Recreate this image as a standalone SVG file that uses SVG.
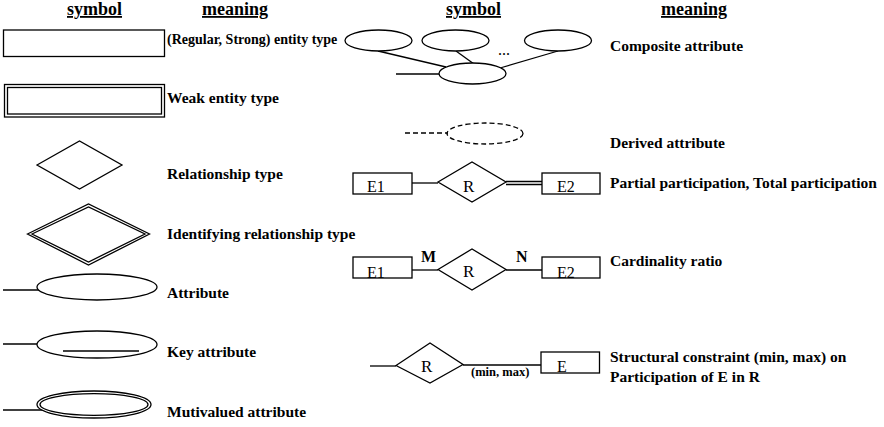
<svg xmlns="http://www.w3.org/2000/svg" width="884" height="427" viewBox="0 0 884 427">
<style>
.s{fill:#fff;stroke:#000;stroke-width:1.3}
.c{fill:none;stroke:#000;stroke-width:1.3}
.d{fill:none;stroke:#000;stroke-width:1.3;stroke-dasharray:5 3}
text{font-family:'Liberation Serif','Times New Roman','DejaVu Serif',serif;fill:#000}
.lbl{font-weight:bold;font-size:15.5px}
.hdr{font-weight:bold;font-size:18px;text-decoration:underline}
.nt{font-size:16px}
.rt{font-size:17px}
.card{font-weight:bold;font-size:16px}
</style>
<rect width="884" height="427" fill="#fff"/>
<g id="headers">
<text class="hdr" x="67" y="15">symbol</text>
<text class="hdr" x="202" y="15">meaning</text>
<text class="hdr" x="446" y="15">symbol</text>
<text class="hdr" x="661" y="15">meaning</text>
</g>
<g id="connectors">
<line class="c" x1="3" y1="290" x2="45" y2="290"/>
<line class="c" x1="3" y1="344" x2="45" y2="344"/>
<line class="c" x1="3" y1="410" x2="45" y2="410"/>
<line class="c" x1="378" y1="51" x2="446" y2="67"/>
<line class="c" x1="456" y1="51" x2="474" y2="64"/>
<line class="c" x1="558" y1="51" x2="500" y2="68"/>
<line class="c" x1="396" y1="74" x2="442" y2="74"/>
<line class="d" x1="405" y1="133" x2="448" y2="133"/>
<line class="c" x1="412" y1="183" x2="438" y2="183"/>
<line class="c" x1="506" y1="181.5" x2="542" y2="181.5"/>
<line class="c" x1="506" y1="184.5" x2="542" y2="184.5"/>
<line class="c" x1="412" y1="270" x2="438" y2="270"/>
<line class="c" x1="506" y1="270" x2="542" y2="270"/>
<line class="c" x1="370" y1="366" x2="396" y2="366"/>
<line class="c" x1="463" y1="365" x2="541" y2="365"/>
</g>
<g id="entity">
<rect class="s" x="3.5" y="30" width="161" height="26.5"/>
</g>
<g id="weak-entity">
<rect class="s" x="4.5" y="84.5" width="160" height="32.5" stroke="#333" stroke-width="1.8"/>
<rect class="c" x="7.5" y="87.5" width="154" height="26.5"/>
</g>
<g id="relationship">
<polygon class="s" points="37,165 79.5,141 122,165 79.5,189"/>
</g>
<g id="identifying-relationship">
<polygon class="s" points="27.5,234 88.5,204 149.5,234 88.5,265"/>
<polygon class="c" points="32,234 88.5,207 145,234 88.5,262"/>
</g>
<g id="attribute">
<ellipse class="s" cx="97" cy="287" rx="60" ry="13"/>
</g>
<g id="key-attribute">
<ellipse class="s" cx="97" cy="344.5" rx="60" ry="13.5"/>
<line class="c" x1="63" y1="351" x2="139" y2="351" stroke-width="1.6"/>
</g>
<g id="multivalued-attribute">
<ellipse class="s" cx="94" cy="404.5" rx="57" ry="13.5"/>
<ellipse class="c" cx="94" cy="404.5" rx="54" ry="10.8"/>
</g>
<g id="composite-attribute">
<ellipse class="s" cx="378.5" cy="40.5" rx="33.5" ry="10.5"/>
<ellipse class="s" cx="455.5" cy="40.5" rx="33.5" ry="10.5"/>
<ellipse class="s" cx="558" cy="40.5" rx="33.5" ry="10.5"/>
<ellipse class="s" cx="472.5" cy="73.5" rx="33.5" ry="10.5"/>
<text class="nt" x="498" y="55">...</text>
</g>
<g id="derived-attribute">
<ellipse class="d" cx="485" cy="133.5" rx="38" ry="10.5"/>
</g>
<g id="participation">
<rect class="s" x="353" y="173" width="59" height="21"/>
<text class="nt" x="367" y="192">E1</text>
<polygon class="s" points="438,182 472,162 506,182 472,202"/>
<text class="rt" x="463" y="192">R</text>
<rect class="s" x="542" y="173" width="58" height="21"/>
<text class="nt" x="557" y="192">E2</text>
</g>
<g id="cardinality">
<rect class="s" x="353" y="257" width="59" height="21"/>
<text class="nt" x="367" y="278">E1</text>
<polygon class="s" points="438,269.5 472,249 506,269.5 472,290"/>
<text class="rt" x="463" y="277">R</text>
<rect class="s" x="542" y="257" width="58" height="21"/>
<text class="nt" x="557" y="278">E2</text>
<text class="card" x="421" y="262">M</text>
<text class="card" x="516" y="262">N</text>
</g>
<g id="structural">
<polygon class="s" points="396,365.5 430,343 463,364.5 430,383"/>
<text class="rt" x="421" y="372">R</text>
<rect class="s" x="541" y="352" width="58.5" height="21"/>
<text class="nt" x="557" y="372">E</text>
<text class="lbl" x="471" y="376" style="font-size:12.5px">(min, max)</text>
</g>
<g id="meanings">
<text class="lbl" x="167" y="44" style="font-size:14px">(Regular, Strong) entity type</text>
<text class="lbl" x="167" y="103">Weak entity type</text>
<text class="lbl" x="167" y="179">Relationship type</text>
<text class="lbl" x="167" y="239">Identifying relationship type</text>
<text class="lbl" x="167" y="298">Attribute</text>
<text class="lbl" x="167" y="357">Key attribute</text>
<text class="lbl" x="167" y="417">Mutivalued attribute</text>
<text class="lbl" x="610" y="51">Composite attribute</text>
<text class="lbl" x="610" y="148">Derived attribute</text>
<text class="lbl" x="610" y="188">Partial participation, Total participation</text>
<text class="lbl" x="610" y="266">Cardinality ratio</text>
<text class="lbl" x="610" y="362">Structural constraint (min, max) on</text>
<text class="lbl" x="610" y="382">Participation of E in R</text>
</g>
</svg>
